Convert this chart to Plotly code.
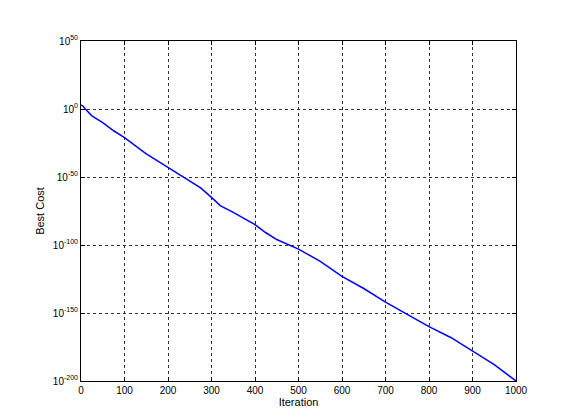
import plotly.graph_objects as go

iterations = [0, 5, 10, 25, 50, 75, 100, 125, 150, 175, 200, 225, 250, 275, 300, 320, 350, 400, 425, 450, 500, 550, 600, 650, 700, 750, 800, 850, 900, 950, 1000]
log10_cost = [3, 2, 0, -5, -10, -16, -21, -27, -33, -38, -43, -48, -53, -58, -65, -71, -76, -85, -91, -96, -103, -112, -123, -132, -142, -151, -160, -168, -178, -188, -200]
best_cost = [10.0 ** e for e in log10_cost]

tick_exps = [-200, -150, -100, -50, 0, 50]
tick_vals = [10.0 ** e for e in tick_exps]
tick_text = ["10<sup>%d</sup>" % e for e in tick_exps]

fig = go.Figure(go.Scatter(x=iterations, y=best_cost, mode="lines",
                           line=dict(color="#0000ff", width=1.5)))
ax = dict(showline=True, linecolor="black", linewidth=1, mirror="ticks", ticks="inside",
          ticklen=4, tickcolor="black", showgrid=True, gridcolor="#333333",
          griddash="dot", gridwidth=0.5, zeroline=False, automargin=False,
          tickfont=dict(size=10, color="black"))
fig.update_xaxes(range=[0, 1000], tickvals=list(range(0, 1001, 100)),
                 title=dict(text="Iteration", font=dict(size=11, color="black"), standoff=2), **ax)
fig.update_yaxes(type="log", range=[-200, 50], tickvals=tick_vals, ticktext=tick_text,
                 title=dict(text="Best Cost", font=dict(size=11, color="black"), standoff=6), **ax)
fig.update_layout(width=561, height=420, margin=dict(l=73, r=53, t=33, b=47),
                  paper_bgcolor="white", plot_bgcolor="white", showlegend=False,
                  font=dict(family="Liberation Sans, Arial", color="black"))
fig.write_html("out.html")
